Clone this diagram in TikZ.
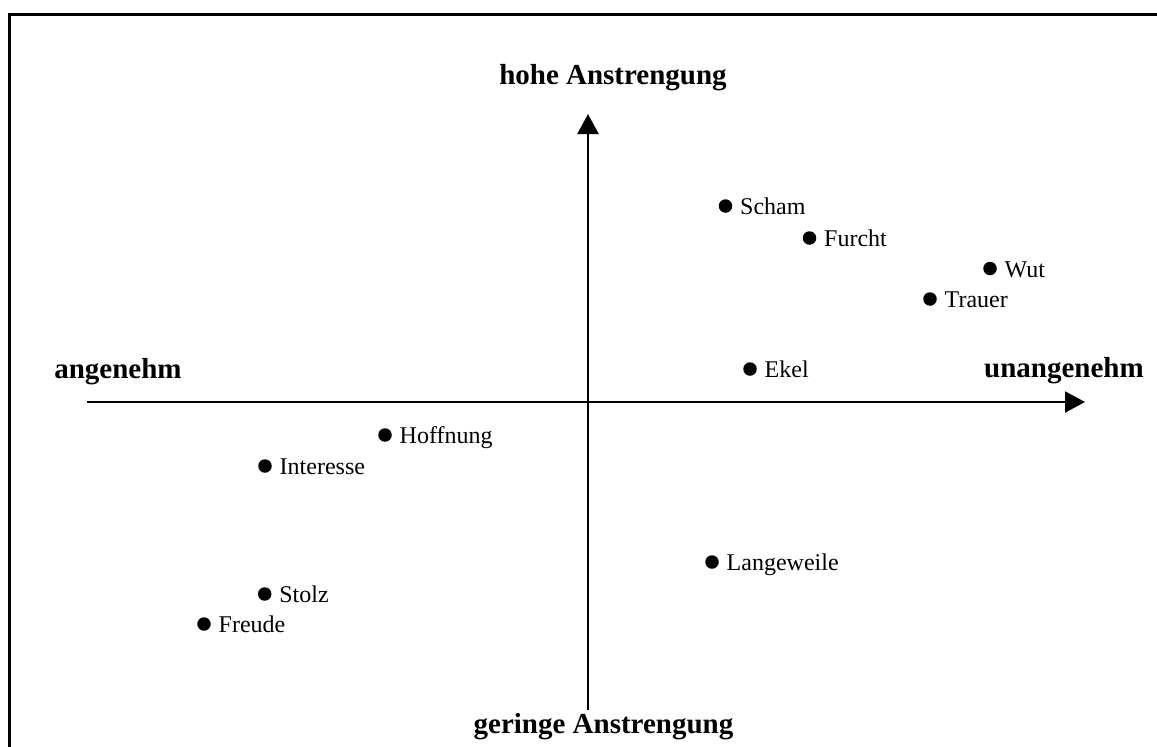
\documentclass[tikz,border=0pt]{standalone}
\usepackage{fontspec}
\setmainfont{Liberation Serif}
\usetikzlibrary{arrows.meta,calc}

\tikzset{
  axis/.style={line width=2pt, -{Triangle[length=20pt,width=21pt]}},
  pole/.style={inner sep=0pt, anchor=base, font=\fontsize{29}{34}\selectfont\bfseries},
  dot/.style={circle, fill=black, inner sep=0pt, minimum size=13.5pt},
  lbl/.style={inner sep=0pt, anchor=base west, font=\fontsize{24}{28}\selectfont},
}

% one emotion: dot at (x,y) with its name set to the right
\newcommand\emotion[4]{%
  \node[dot] (#1) at (#2,#3) {};
  \node[lbl] (#1-name) at ($(#1)+(14.5,8.5)$) {#4};
}

\begin{document}
\begin{tikzpicture}[x=1pt,y=-1pt]
  \useasboundingbox (0,0) rectangle (1157,747);
  \clip (0,0) rectangle (1157,747);

  % outer frame (only left and top edges lie inside the page)
  \draw[line width=3pt] (9.5,770) -- (9.5,14.5) -- (1180,14.5);

  % axes
  \coordinate (xl) at (87,402);
  \coordinate (xr) at (1085,402);
  \coordinate (yb) at (588,710);
  \coordinate (yt) at (588,114);
  \draw[axis] (xl) -- (xr);
  \draw[axis] (yb) -- (yt);

  % pole labels
  \node[pole] (top)    at (613,84)    {hohe Anstrengung};
  \node[pole] (bottom) at (603.5,733) {geringe Anstrengung};
  \node[pole] (left)   at (118,378)   {angenehm};
  \node[pole] (right)  at (1064,377)  {unangenehm};

  % emotions
  \emotion{scham}{725.5}{206}{Scham}
  \emotion{furcht}{809.5}{238}{Furcht}
  \emotion{wut}{990}{268.5}{Wut}
  \emotion{trauer}{930}{299}{Trauer}
  \emotion{ekel}{750}{369}{Ekel}
  \emotion{hoffnung}{385}{435}{Hoffnung}
  \emotion{interesse}{265}{466}{Interesse}
  \emotion{langeweile}{712}{562}{Langeweile}
  \emotion{stolz}{264.7}{594}{Stolz}
  \emotion{freude}{204}{624}{Freude}
\end{tikzpicture}
\end{document}
